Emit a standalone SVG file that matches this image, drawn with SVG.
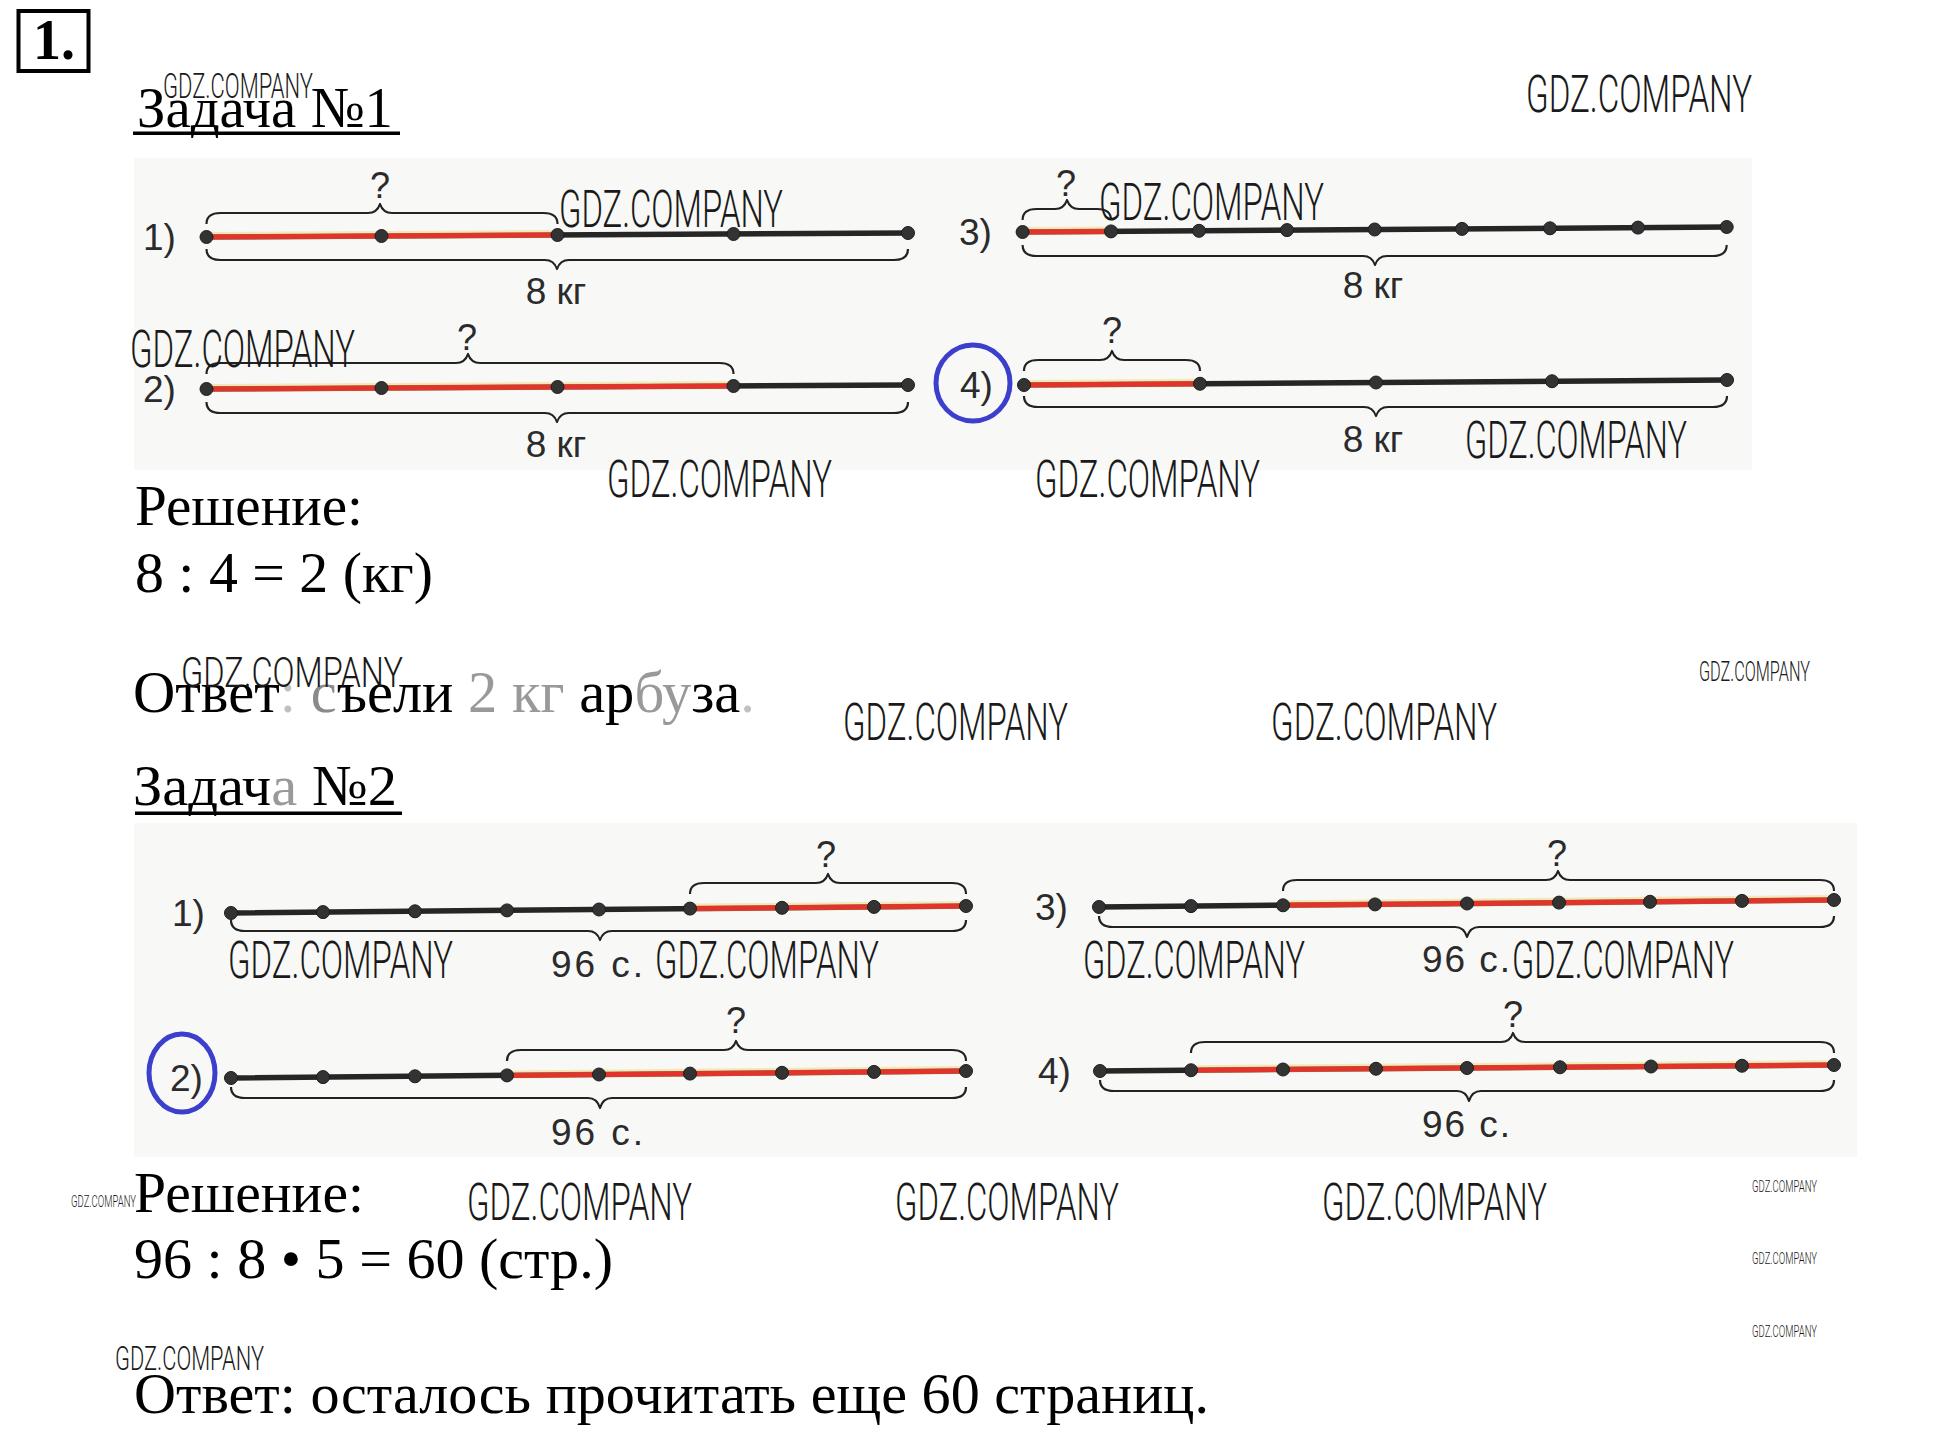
<svg xmlns="http://www.w3.org/2000/svg" width="1941" height="1447" viewBox="0 0 1941 1447">
<style>
.serif{font-family:"Liberation Serif","Times New Roman",serif;fill:#000}
.lbl{font-family:"Liberation Sans",Arial,sans-serif;fill:#2b2b2b;font-size:37px}
.q{font-family:"Liberation Sans",Arial,sans-serif;fill:#2b2b2b;font-size:36px;text-anchor:middle}
.wm{font-family:Roboto,"DejaVu Sans",sans-serif;font-weight:300;fill:#1a1a1a}
.blk{stroke:#262626;stroke-width:5.5;stroke-linecap:round;fill:none}
.glow{stroke:#f5d36b;stroke-width:8;stroke-linecap:round;opacity:0.45;fill:none}
.red{stroke:#e2342c;stroke-width:5;stroke-linecap:round;fill:none}
.br{stroke:#222;stroke-width:2.2;fill:none;stroke-linejoin:round}
.dot{fill:#333;stroke:#1e1e1e;stroke-width:1}
.ring{fill:none;stroke:#3b3fcc;stroke-width:5}
.panel{fill:#f8f8f7}
</style>
<rect width="1941" height="1447" fill="#fff"/>
<rect class="panel" x="134" y="158" width="1618" height="312"/>
<rect class="panel" x="134" y="823" width="1723" height="334"/>

<g id="header">
<rect x="18.5" y="11" width="70" height="60" fill="none" stroke="#000" stroke-width="4"/>
<text class="serif" x="33" y="59" font-size="56" font-weight="bold">1.</text>
</g>

<g id="task1-title">
<text class="serif" x="137" y="127" font-size="58" textLength="256" lengthAdjust="spacingAndGlyphs">Задача №1</text>
<rect x="133" y="131.5" width="267" height="3.5" fill="#000"/>
</g>

<g id="t1-d1">
<line class="blk" x1="206.5" y1="237" x2="908" y2="233"/>
<line class="glow" x1="206.5" y1="236" x2="557.5" y2="234"/>
<line class="red" x1="206.5" y1="237" x2="557.5" y2="235"/>
<circle class="dot" cx="206.5" cy="237" r="6.5"/><circle class="dot" cx="381.5" cy="236" r="6.5"/><circle class="dot" cx="557.5" cy="235" r="6.5"/><circle class="dot" cx="733.5" cy="234" r="6.5"/><circle class="dot" cx="908" cy="233" r="6.5"/>
<path class="br" d="M206.5,224 Q206.5,213 220.5,213 L368,213 Q377,213 380,204 Q383,213 392,213 L543.5,213 Q557.5,213 557.5,224"/>
<path class="br" d="M206.5,249 Q206.5,260 220.5,260 L545,260 Q554,260 557,269 Q560,260 569,260 L894,260 Q908,260 908,249"/>
<text class="q" x="380" y="198">?</text>
<text class="lbl" x="556" y="304" text-anchor="middle">8 кг</text>
<text class="lbl" x="143" y="250">1)</text>
</g>

<g id="t1-d2">
<line class="blk" x1="206.5" y1="389" x2="908" y2="385"/>
<line class="glow" x1="206.5" y1="388" x2="733.5" y2="385"/>
<line class="red" x1="206.5" y1="389" x2="733.5" y2="386"/>
<circle class="dot" cx="206.5" cy="389" r="6.5"/><circle class="dot" cx="381.5" cy="388" r="6.5"/><circle class="dot" cx="557.5" cy="387" r="6.5"/><circle class="dot" cx="733.5" cy="386" r="6.5"/><circle class="dot" cx="908" cy="385" r="6.5"/>
<path class="br" d="M206.5,374 Q206.5,363 220.5,363 L456,363 Q465,363 468,354 Q471,363 480,363 L719.5,363 Q733.5,363 733.5,374"/>
<path class="br" d="M206.5,402 Q206.5,413 220.5,413 L545,413 Q554,413 557,422 Q560,413 569,413 L894,413 Q908,413 908,402"/>
<text class="q" x="467" y="350">?</text>
<text class="lbl" x="556" y="457" text-anchor="middle">8 кг</text>
<text class="lbl" x="143" y="402">2)</text>
</g>

<g id="t1-d3">
<line class="blk" x1="1022.6" y1="232" x2="1726.7" y2="227"/>
<line class="glow" x1="1022.6" y1="231" x2="1111" y2="230.4"/>
<line class="red" x1="1022.6" y1="232" x2="1111" y2="231.4"/>
<circle class="dot" cx="1022.6" cy="232" r="6.5"/><circle class="dot" cx="1111" cy="231.4" r="6.5"/><circle class="dot" cx="1199" cy="230.8" r="6.5"/><circle class="dot" cx="1287" cy="230.1" r="6.5"/><circle class="dot" cx="1374.7" cy="229.5" r="6.5"/><circle class="dot" cx="1462" cy="228.9" r="6.5"/><circle class="dot" cx="1550" cy="228.3" r="6.5"/><circle class="dot" cx="1638" cy="227.6" r="6.5"/><circle class="dot" cx="1726.7" cy="227" r="6.5"/>
<path class="br" d="M1022.6,220 Q1022.6,209 1036.6,209 L1055,209 Q1064,209 1067,200 Q1070,209 1079,209 L1097,209 Q1111,209 1111,220"/>
<path class="br" d="M1022.6,245 Q1022.6,256 1036.6,256 L1363,256 Q1372,256 1375,265 Q1378,256 1387,256 L1712.7,256 Q1726.7,256 1726.7,245"/>
<text class="q" x="1066" y="196">?</text>
<text class="lbl" x="1373" y="298" text-anchor="middle">8 кг</text>
<text class="lbl" x="959" y="245">3)</text>
</g>

<g id="t1-d4">
<line class="blk" x1="1024" y1="385" x2="1727" y2="380"/>
<line class="glow" x1="1024" y1="384" x2="1200" y2="382.75"/>
<line class="red" x1="1024" y1="385" x2="1200" y2="383.75"/>
<circle class="dot" cx="1024" cy="385" r="6.5"/><circle class="dot" cx="1200" cy="383.75" r="6.5"/><circle class="dot" cx="1376" cy="382.5" r="6.5"/><circle class="dot" cx="1552" cy="381.25" r="6.5"/><circle class="dot" cx="1727" cy="380" r="6.5"/>
<path class="br" d="M1024,371 Q1024,360 1038,360 L1100,360 Q1109,360 1112,351 Q1115,360 1124,360 L1186,360 Q1200,360 1200,371"/>
<path class="br" d="M1024,396 Q1024,407 1038,407 L1364,407 Q1373,407 1376,416 Q1379,407 1388,407 L1713,407 Q1727,407 1727,396"/>
<text class="q" x="1112" y="343">?</text>
<text class="lbl" x="1373" y="452" text-anchor="middle">8 кг</text>
<text class="lbl" x="960" y="398">4)</text>
<ellipse class="ring" cx="973" cy="383" rx="37" ry="38"/>
</g>

<g id="task1-solution">
<text class="serif" x="135" y="525" font-size="57" textLength="228" lengthAdjust="spacingAndGlyphs">Решение:</text>
<text class="serif" x="135" y="592" font-size="58" textLength="298" lengthAdjust="spacingAndGlyphs">8 : 4 = 2 (кг)</text>
<text class="serif" x="133" y="712" font-size="60" textLength="622" lengthAdjust="spacingAndGlyphs">Ответ<tspan fill="#c0c0c0">:</tspan><tspan fill="#8a8a8a"> с</tspan>ъели<tspan fill="#999"> 2 кг </tspan>ар<tspan fill="#999">бу</tspan>за<tspan fill="#c0c0c0">.</tspan></text>
</g>

<g id="task2-title">
<text class="serif" x="133" y="805" font-size="58" textLength="264" lengthAdjust="spacingAndGlyphs">Задач<tspan fill="#999">а</tspan> №2</text>
<rect x="135" y="811.5" width="267" height="3.5" fill="#000"/>
</g>

<g id="t2-d1">
<line class="blk" x1="231" y1="913" x2="966" y2="906"/>
<line class="glow" x1="690" y1="907.6" x2="966" y2="905"/>
<line class="red" x1="690" y1="908.6" x2="966" y2="906"/>
<circle class="dot" cx="231" cy="913" r="6.5"/><circle class="dot" cx="323" cy="912.1" r="6.5"/><circle class="dot" cx="415" cy="911.3" r="6.5"/><circle class="dot" cx="507" cy="910.4" r="6.5"/><circle class="dot" cx="599" cy="909.5" r="6.5"/><circle class="dot" cx="690" cy="908.6" r="6.5"/><circle class="dot" cx="782" cy="907.8" r="6.5"/><circle class="dot" cx="874" cy="906.9" r="6.5"/><circle class="dot" cx="966" cy="906" r="6.5"/>
<path class="br" d="M690,894 Q690,883 704,883 L816,883 Q825,883 828,874 Q831,883 840,883 L952,883 Q966,883 966,894"/>
<path class="br" d="M231,920 Q231,931 245,931 L588,931 Q597,931 600,940 Q603,931 612,931 L952,931 Q966,931 966,920"/>
<text class="q" x="826" y="867">?</text>
<text class="lbl" x="551" y="977" textLength="92" lengthAdjust="spacing">96 с.</text>
<text class="lbl" x="172" y="926">1)</text>
</g>

<g id="t2-d2">
<line class="blk" x1="231" y1="1078" x2="966" y2="1071"/>
<line class="glow" x1="507" y1="1074.4" x2="966" y2="1070"/>
<line class="red" x1="507" y1="1075.4" x2="966" y2="1071"/>
<circle class="dot" cx="231" cy="1078" r="6.5"/><circle class="dot" cx="323" cy="1077.1" r="6.5"/><circle class="dot" cx="415" cy="1076.3" r="6.5"/><circle class="dot" cx="507" cy="1075.4" r="6.5"/><circle class="dot" cx="599" cy="1074.5" r="6.5"/><circle class="dot" cx="690" cy="1073.6" r="6.5"/><circle class="dot" cx="782" cy="1072.8" r="6.5"/><circle class="dot" cx="874" cy="1071.9" r="6.5"/><circle class="dot" cx="966" cy="1071" r="6.5"/>
<path class="br" d="M507,1061 Q507,1050 521,1050 L724,1050 Q733,1050 736,1041 Q739,1050 748,1050 L952,1050 Q966,1050 966,1061"/>
<path class="br" d="M231,1087 Q231,1098 245,1098 L588,1098 Q597,1098 600,1108 Q603,1098 612,1098 L952,1098 Q966,1098 966,1087"/>
<text class="q" x="736" y="1033">?</text>
<text class="lbl" x="551" y="1145" textLength="92" lengthAdjust="spacing">96 с.</text>
<text class="lbl" x="170" y="1091">2)</text>
<ellipse class="ring" cx="182" cy="1073" rx="33" ry="39"/>
</g>

<g id="t2-d3">
<line class="blk" x1="1099" y1="907" x2="1834" y2="900"/>
<line class="glow" x1="1283" y1="904.3" x2="1834" y2="899"/>
<line class="red" x1="1283" y1="905.3" x2="1834" y2="900"/>
<circle class="dot" cx="1099" cy="907" r="6.5"/><circle class="dot" cx="1191" cy="906.1" r="6.5"/><circle class="dot" cx="1283" cy="905.3" r="6.5"/><circle class="dot" cx="1375" cy="904.4" r="6.5"/><circle class="dot" cx="1467" cy="903.5" r="6.5"/><circle class="dot" cx="1559" cy="902.6" r="6.5"/><circle class="dot" cx="1650" cy="901.8" r="6.5"/><circle class="dot" cx="1742" cy="900.9" r="6.5"/><circle class="dot" cx="1834" cy="900" r="6.5"/>
<path class="br" d="M1283,891 Q1283,880 1297,880 L1546,880 Q1555,880 1558,871 Q1561,880 1570,880 L1820,880 Q1834,880 1834,891"/>
<path class="br" d="M1099,916 Q1099,927 1113,927 L1455,927 Q1464,927 1467,937 Q1470,927 1479,927 L1820,927 Q1834,927 1834,916"/>
<text class="q" x="1557" y="866" fill="#666">?</text>
<text class="lbl" x="1422" y="972" textLength="88" lengthAdjust="spacing">96 с.</text>
<text class="lbl" x="1035" y="920">3)</text>
</g>

<g id="t2-d4">
<line class="blk" x1="1100" y1="1071" x2="1834" y2="1065"/>
<line class="glow" x1="1191" y1="1069.25" x2="1834" y2="1064"/>
<line class="red" x1="1191" y1="1070.25" x2="1834" y2="1065"/>
<circle class="dot" cx="1100" cy="1071" r="6.5"/><circle class="dot" cx="1191" cy="1070.25" r="6.5"/><circle class="dot" cx="1283" cy="1069.5" r="6.5"/><circle class="dot" cx="1376" cy="1068.75" r="6.5"/><circle class="dot" cx="1467" cy="1068" r="6.5"/><circle class="dot" cx="1560" cy="1067.25" r="6.5"/><circle class="dot" cx="1651" cy="1066.5" r="6.5"/><circle class="dot" cx="1742" cy="1065.75" r="6.5"/><circle class="dot" cx="1834" cy="1065" r="6.5"/>
<path class="br" d="M1191,1053 Q1191,1042 1205,1042 L1501,1042 Q1510,1042 1513,1033 Q1516,1042 1525,1042 L1820,1042 Q1834,1042 1834,1053"/>
<path class="br" d="M1100,1080 Q1100,1091 1114,1091 L1457,1091 Q1466,1091 1469,1101 Q1472,1091 1481,1091 L1820,1091 Q1834,1091 1834,1080"/>
<text class="q" x="1513" y="1027">?</text>
<text class="lbl" x="1422" y="1137" textLength="88" lengthAdjust="spacing">96 с.</text>
<text class="lbl" x="1038" y="1084">4)</text>
</g>

<g id="task2-solution">
<text class="serif" x="134" y="1212" font-size="57" textLength="230" lengthAdjust="spacingAndGlyphs">Решение:</text>
<text class="serif" x="134" y="1278" font-size="58" textLength="479" lengthAdjust="spacingAndGlyphs">96 : 8 • 5 = 60 (стр.)</text>
<text class="serif" x="134" y="1413" font-size="56" textLength="1075" lengthAdjust="spacingAndGlyphs">Ответ: осталось прочитать еще 60 страниц.</text>
</g>

<g id="watermarks">
<text class="wm" x="1526" y="112" font-size="52" textLength="226" lengthAdjust="spacingAndGlyphs">GDZ.COMPANY</text>
<text class="wm" x="559" y="227" font-size="52" textLength="224" lengthAdjust="spacingAndGlyphs">GDZ.COMPANY</text>
<text class="wm" x="130" y="367" font-size="52" textLength="225" lengthAdjust="spacingAndGlyphs">GDZ.COMPANY</text>
<text class="wm" x="607" y="497" font-size="52" textLength="225" lengthAdjust="spacingAndGlyphs">GDZ.COMPANY</text>
<text class="wm" x="1099" y="220" font-size="52" textLength="225" lengthAdjust="spacingAndGlyphs">GDZ.COMPANY</text>
<text class="wm" x="1465" y="458" font-size="52" textLength="222" lengthAdjust="spacingAndGlyphs">GDZ.COMPANY</text>
<text class="wm" x="1035" y="497" font-size="52" textLength="225" lengthAdjust="spacingAndGlyphs">GDZ.COMPANY</text>
<text class="wm" x="181" y="687" font-size="42" textLength="222" lengthAdjust="spacingAndGlyphs">GDZ.COMPANY</text>
<text class="wm" x="843" y="740" font-size="52" textLength="225" lengthAdjust="spacingAndGlyphs">GDZ.COMPANY</text>
<text class="wm" x="1271" y="740" font-size="52" textLength="226" lengthAdjust="spacingAndGlyphs">GDZ.COMPANY</text>
<text class="wm" x="1699" y="681" font-size="28" textLength="111" lengthAdjust="spacingAndGlyphs">GDZ.COMPANY</text>
<text class="wm" x="228" y="978" font-size="52" textLength="225" lengthAdjust="spacingAndGlyphs">GDZ.COMPANY</text>
<text class="wm" x="655" y="978" font-size="52" textLength="224" lengthAdjust="spacingAndGlyphs">GDZ.COMPANY</text>
<text class="wm" x="1083" y="978" font-size="52" textLength="222" lengthAdjust="spacingAndGlyphs">GDZ.COMPANY</text>
<text class="wm" x="1512" y="978" font-size="52" textLength="222" lengthAdjust="spacingAndGlyphs">GDZ.COMPANY</text>
<text class="wm" x="467" y="1220" font-size="52" textLength="225" lengthAdjust="spacingAndGlyphs">GDZ.COMPANY</text>
<text class="wm" x="895" y="1220" font-size="52" textLength="224" lengthAdjust="spacingAndGlyphs">GDZ.COMPANY</text>
<text class="wm" x="1322" y="1220" font-size="52" textLength="225" lengthAdjust="spacingAndGlyphs">GDZ.COMPANY</text>
<text class="wm" x="71" y="1207" font-size="17" textLength="65" lengthAdjust="spacingAndGlyphs">GDZ.COMPANY</text>
<text class="wm" x="115" y="1370" font-size="33" textLength="149" lengthAdjust="spacingAndGlyphs">GDZ.COMPANY</text>
<text class="wm" x="163" y="98" font-size="35" textLength="150" lengthAdjust="spacingAndGlyphs">GDZ.COMPANY</text>
<text class="wm" x="1752" y="1192" font-size="16" textLength="65" lengthAdjust="spacingAndGlyphs">GDZ.COMPANY</text>
<text class="wm" x="1752" y="1264" font-size="16" textLength="65" lengthAdjust="spacingAndGlyphs">GDZ.COMPANY</text>
<text class="wm" x="1752" y="1337" font-size="16" textLength="65" lengthAdjust="spacingAndGlyphs">GDZ.COMPANY</text>
</g>
</svg>
